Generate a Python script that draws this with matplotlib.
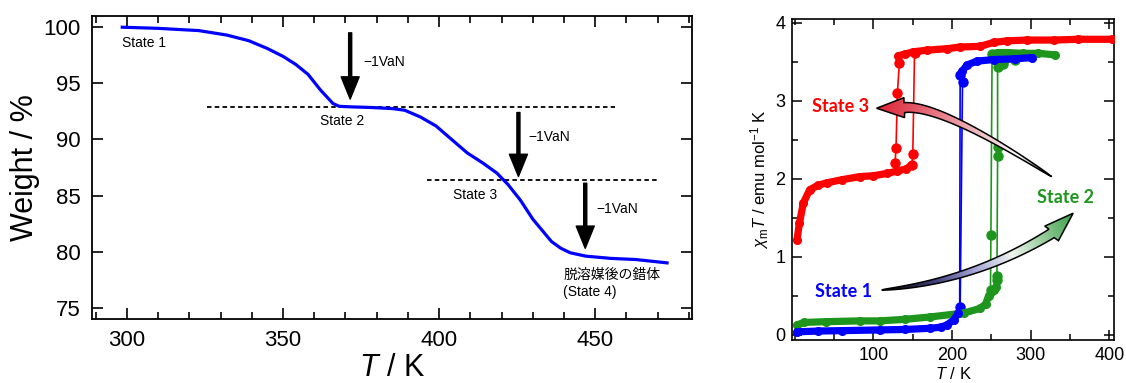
import matplotlib
matplotlib.use('Agg')
import matplotlib.pyplot as plt
import numpy as np
from matplotlib.colors import LinearSegmentedColormap
from matplotlib.patches import Polygon
from matplotlib.ticker import MultipleLocator

plt.rcParams['font.family'] = ['Liberation Sans', 'Noto Sans CJK JP']
plt.rcParams['mathtext.fontset'] = 'custom'
plt.rcParams['mathtext.rm'] = 'Liberation Sans'
plt.rcParams['mathtext.it'] = 'Liberation Sans:italic'

# --- TGA (left) ---
tga_T = [298.5, 310, 323, 332, 339, 345, 350, 354, 358, 362, 366, 368, 372, 378, 385,
         389, 394, 399, 404, 409, 414, 418.5, 422, 426, 430, 433, 436, 439, 442, 447,
         455, 463, 473]
tga_w = [100.0, 99.9, 99.7, 99.3, 98.8, 98.1, 97.4, 96.7, 95.8, 94.4, 93.2, 92.95, 92.9,
         92.85, 92.75, 92.6, 92.0, 91.2, 90.0, 88.8, 87.9, 87.0, 86.0, 84.6, 82.9, 81.9,
         80.9, 80.3, 79.9, 79.6, 79.4, 79.3, 79.0]
plateau_w = [92.86, 86.4]
plateau_T = [(325.5, 456.4), (396, 470)]
# arrow x, start, end, label (x, y)
loss_T = [371.5, 425.4, 446.8]
loss_from = [99.5, 92.4, 86.1]
loss_to = [93.6, 86.7, 80.3]
loss_lbl = [(375.6, 96.9), (428.5, 90.2), (450.5, 83.8)]

# --- chi_m T (right) ---
red_low_T = [3, 6, 11, 19, 30, 41, 60, 83, 100, 117, 130, 142, 149]
red_low_c = [1.22, 1.43, 1.69, 1.86, 1.92, 1.95, 1.99, 2.03, 2.04, 2.07, 2.10, 2.13, 2.18]
red_high_T = [132, 140, 151, 168, 194, 210, 236, 253, 270, 295, 330, 360, 403]
red_high_c = [3.58, 3.60, 3.63, 3.65, 3.67, 3.69, 3.70, 3.75, 3.77, 3.78, 3.78, 3.79, 3.79]
red_warm_T = [149, 150.2, 152.4]
red_warm_c = [2.18, 2.32, 3.62]
red_cool_T = [133.1, 130.6, 128.9, 127.6]
red_cool_c = [3.48, 3.10, 2.40, 2.20]

blue_low_T = [3, 30, 60, 108, 140, 172, 186, 193.5, 202, 208]
blue_low_c = [0.04, 0.05, 0.055, 0.064, 0.07, 0.085, 0.10, 0.128, 0.19, 0.28]
blue_high_T = [210.4, 213, 219, 231.7, 253, 280, 302]
blue_high_c = [3.33, 3.38, 3.46, 3.51, 3.53, 3.54, 3.555]
blue_warm_T = [210.4, 213.4]
blue_warm_c = [0.36, 3.24]
blue_cool_T = [210.4, 209.8]
blue_cool_c = [3.33, 0.30]

green_low_T = [3, 12, 40, 83, 108, 140, 172, 214.7, 236, 243, 246.5, 250, 253, 256]
green_low_c = [0.13, 0.16, 0.17, 0.18, 0.18, 0.20, 0.23, 0.28, 0.34, 0.40, 0.50, 0.55, 0.58, 0.62]
green_high_T = [251, 258, 270, 290, 310, 331]
green_high_c = [3.60, 3.62, 3.62, 3.61, 3.61, 3.59]
green_warm_T = [257.2, 257.2, 258, 258, 258, 265, 280]
green_warm_c = [0.70, 0.75, 2.30, 2.41, 3.44, 3.47, 3.52]
green_cool_T = [251, 249.5, 249]
green_cool_c = [3.60, 1.28, 0.58]

fig = plt.figure(figsize=(11.26, 3.83), dpi=100)
ax1 = fig.add_axes([92 / 1126, 64 / 383, 600 / 1126, 303 / 383])
ax2 = fig.add_axes([792.3 / 1126, 43 / 383, 321.7 / 1126, 321 / 383])

# left panel
ax1.plot(tga_T, tga_w, color='#0000ff', lw=2.3, zorder=3)
for w, (t0, t1) in zip(plateau_w, plateau_T):
    ax1.hlines(w, t0, t1, colors='k', linestyles=(0, (2.5, 1.8)), lw=1.3)
for x, y0, y1, (lx, ly) in zip(loss_T, loss_from, loss_to, loss_lbl):
    ax1.annotate('', xy=(x, y1), xytext=(x, y0),
                 arrowprops=dict(facecolor='k', edgecolor='k', width=2.2,
                                 headwidth=13, headlength=16, shrink=0))
    ax1.text(lx, ly, '\u22121VaN', fontsize=10, ha='left', va='center')
ax1.text(298.3, 98.6, 'State 1', fontsize=10, ha='left', va='center')
ax1.text(361.9, 91.6, 'State 2', fontsize=10, ha='left', va='center')
ax1.text(404.6, 85.05, 'State 3', fontsize=10, ha='left', va='center')
ax1.text(439.8, 77.2, '脱溶媒後の錯体\n(State 4)', fontsize=10, ha='left', va='center',
         linespacing=1.3)

ax1.set_xlim(288.8, 481)
ax1.set_ylim(74, 101)
ax1.xaxis.set_major_locator(MultipleLocator(50))
ax1.xaxis.set_minor_locator(MultipleLocator(10))
ax1.yaxis.set_major_locator(MultipleLocator(5))
ax1.tick_params(which='both', direction='in', top=True, right=True, labelsize=16, width=1.2)
ax1.tick_params(which='major', length=8, pad=8)
ax1.tick_params(which='minor', length=5)
ax1.set_xlabel('$T$ / K', fontsize=22)
ax1.set_ylabel('Weight / %', fontsize=22)
ax1.xaxis.set_label_coords(0.5, -0.112)
ax1.yaxis.set_label_coords(-0.087, 0.5)
for s in ax1.spines.values():
    s.set_linewidth(1.3)

# right panel
def branch(T, c, color, lw=5.2, ms=5.5):
    ax2.plot(T, c, color=color, lw=lw, marker='o', ms=ms, solid_capstyle='round', zorder=3)

def jump(T, c, color):
    ax2.plot(T, c, color=color, lw=1.2, marker='o', ms=6.5, zorder=2)

branch(green_low_T, green_low_c, '#1e961e')
branch(green_high_T, green_high_c, '#1e961e')
jump(green_warm_T, green_warm_c, '#1e961e')
jump(green_cool_T, green_cool_c, '#1e961e')
branch(blue_low_T, blue_low_c, '#0000ff')
branch(blue_high_T, blue_high_c, '#0000ff')
jump(blue_warm_T, blue_warm_c, '#0000ff')
jump(blue_cool_T, blue_cool_c, '#0000ff')
branch(red_low_T, red_low_c, '#ff0000')
branch(red_high_T, red_high_c, '#ff0000')
jump(red_warm_T, red_warm_c, '#ff0000')
jump(red_cool_T, red_cool_c, '#ff0000')


def grad_arrow(ax, tail, mid, base, tip, shaft_w, head_w, colors):
    # geometry worked out in axes-pixel space so the shape is not squashed
    bb = ax.get_position()
    sx, sy = bb.width * fig.get_figwidth() * fig.dpi, bb.height * fig.get_figheight() * fig.dpi
    sc = np.array([sx, sy])
    P0, M, Pb, Pt = [np.array(p) * sc for p in (tail, mid, base, tip)]
    C = 2 * M - 0.5 * (P0 + Pb)
    t = np.linspace(0, 1, 80)[:, None]
    B = (1 - t) ** 2 * P0 + 2 * (1 - t) * t * C + t ** 2 * Pb
    dB = 2 * (1 - t) * (C - P0) + 2 * t * (Pb - C)
    n = np.column_stack([-dB[:, 1], dB[:, 0]]) / np.linalg.norm(dB, axis=1)[:, None]
    w = shaft_w * t ** 0.6 / 2
    left, right = B + n * w, B - n * w
    d = (Pt - Pb) / np.linalg.norm(Pt - Pb)
    nh = np.array([-d[1], d[0]])
    pts = np.vstack([left, Pb + nh * head_w / 2, Pt, Pb - nh * head_w / 2, right[::-1]]) / sc
    poly = Polygon(pts, closed=True, facecolor='none', edgecolor='k', lw=1.1,
                   transform=ax.transAxes, zorder=6)
    ax.add_patch(poly)
    x0, y0 = pts.min(axis=0)
    x1, y1 = pts.max(axis=0)
    gx, gy = np.meshgrid(np.linspace(x0, x1, 200), np.linspace(y0, y1, 200))
    v = (np.array(tip) - np.array(tail)) * sc
    s = ((gx - tail[0]) * sx * v[0] + (gy - tail[1]) * sy * v[1]) / (v @ v)
    cmap = LinearSegmentedColormap.from_list('g', colors)
    im = ax.imshow(cmap(np.clip(s, 0, 1)), extent=[x0, x1, y0, y1], origin='lower',
                   transform=ax.transAxes, aspect='auto', zorder=5, interpolation='bilinear')
    im.set_clip_path(poly)


grad_arrow(ax2, (0.806, 0.509), (0.521, 0.675), (0.348, 0.724), (0.262, 0.722), 10, 20,
           [(0, '#000000'), (0.2, '#ffffff'), (0.45, '#f0bcc2'), (1, '#dc2436')])
grad_arrow(ax2, (0.278, 0.156), (0.552, 0.213), (0.806, 0.332), (0.873, 0.395), 10, 20,
           [(0, '#000000'), (0.25, '#40407a'), (0.45, '#a4a4d8'), (0.65, '#eef4ee'), (1, '#3aa044')])

ax2.text(0.060, 0.727, 'State 3', transform=ax2.transAxes, color='#ff0000', fontsize=13,
         fontweight='bold', family='Lato', ha='left', va='center', zorder=7)
ax2.text(0.760, 0.4445, 'State 2', transform=ax2.transAxes, color='#1e961e', fontsize=13,
         fontweight='bold', family='Lato', ha='left', va='center', zorder=7)
ax2.text(0.0706, 0.1526, 'State 1', transform=ax2.transAxes, color='#0000ff', fontsize=13,
         fontweight='bold', family='Lato', ha='left', va='center', zorder=7)

ax2.set_xlim(-3, 406)
ax2.set_ylim(-0.065, 4.05)
ax2.set_xticks([100, 200, 300, 400])
ax2.xaxis.set_minor_locator(MultipleLocator(50))
ax2.yaxis.set_major_locator(MultipleLocator(1))
ax2.yaxis.set_minor_locator(MultipleLocator(0.5))
ax2.tick_params(which='both', direction='in', top=True, right=True, labelsize=13, width=1.1)
ax2.tick_params(which='major', length=7, pad=5)
ax2.tick_params(which='minor', length=4.5)
ax2.set_xlabel('$T$ / K', fontsize=12)
ax2.set_ylabel('$\\chi_\\mathrm{m}T$ / emu mol$^{-1}$ K', fontsize=12)
ax2.xaxis.set_label_coords(0.5, -0.08)
ax2.yaxis.set_label_coords(-0.065, 0.5)
for s in ax2.spines.values():
    s.set_linewidth(1.2)

fig.savefig('out.png', dpi=100)
